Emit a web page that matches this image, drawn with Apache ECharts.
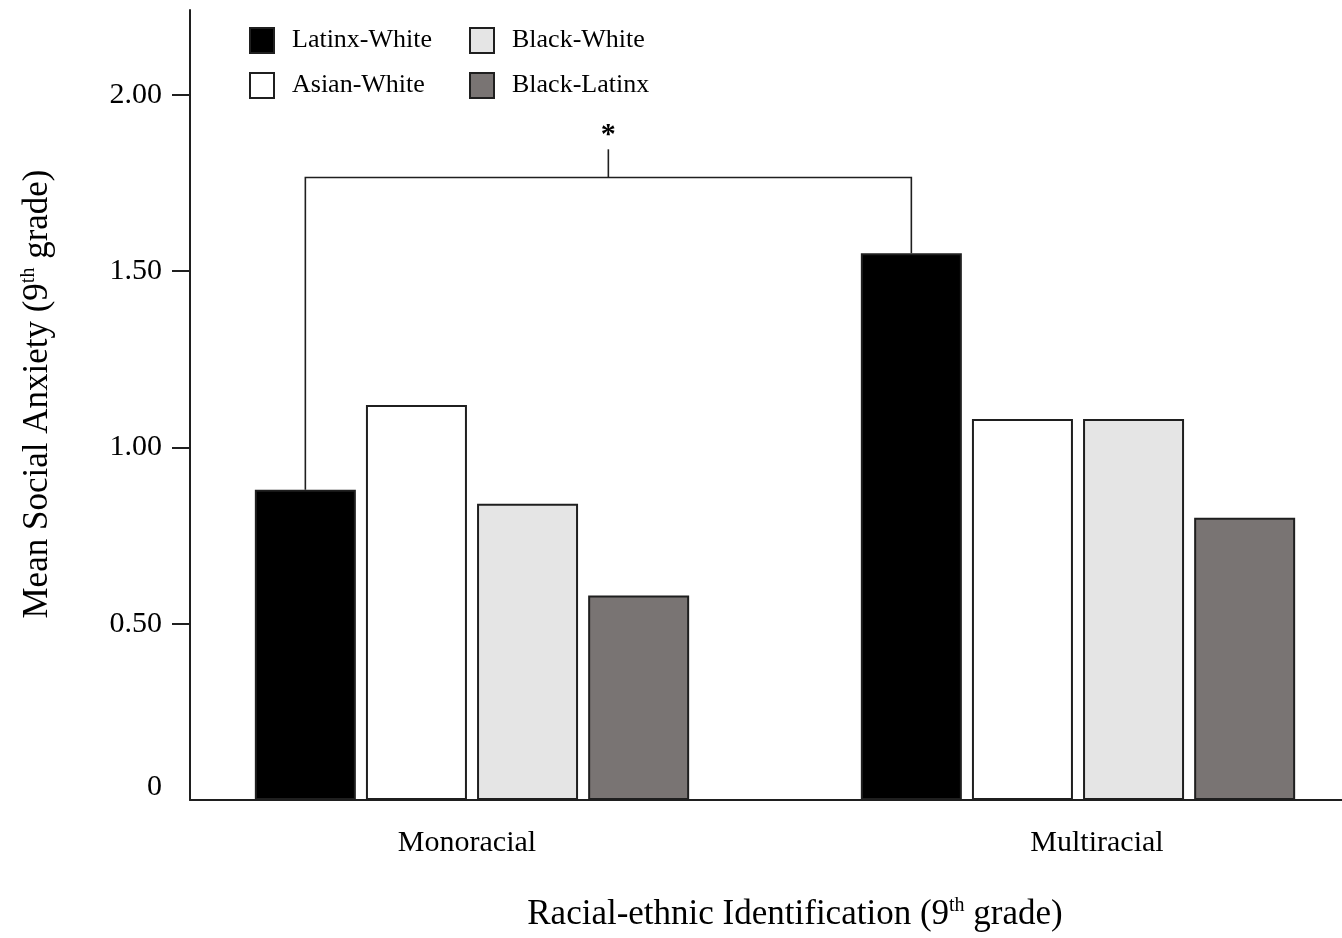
<!DOCTYPE html>
<html>
<head>
<meta charset="utf-8">
<script src="https://cdn.jsdelivr.net/npm/echarts@6/dist/echarts.min.js"></script>
<style>
  html, body { margin: 0; padding: 0; background: #fff; }
  #chart { width: 1342px; height: 938px; }
</style>
</head>
<body>
<div id="chart"></div>
<script>
// Mean social anxiety by racial-ethnic identification (9th grade)
const categories = ['Monoracial', 'Multiracial'];
const seriesNames = ['Latinx-White', 'Asian-White', 'Black-White', 'Black-Latinx'];
const latinxWhite = [0.88, 1.55];
const asianWhite = [1.12, 1.08];
const blackWhite = [0.84, 1.08];
const blackLatinx = [0.58, 0.80];
const yTickLabels = [0, 0.5, 1, 1.5, 2];
const yMax = 2.24;

// significance bracket between the two Latinx-White bars
const bracketLevel = 1.765;
const bracketTip = 1.845;

const FONT = '"Liberation Serif", "Times New Roman", serif';
const INK = '#1f1f1f';

const fills = ['#000000', '#ffffff', '#e5e5e5', '#797473'];
const values = [latinxWhite, asianWhite, blackWhite, blackLatinx];
// nudges for the category labels (left, right padding in px)
const labelPads = [[0, 10], [38, 0]];

const chart = echarts.init(document.getElementById('chart'), null, { renderer: 'canvas' });

const richTitle = {
  a: { fontSize: 35, fontFamily: FONT, color: '#000', lineHeight: 38 },
  s: { fontSize: 20, fontFamily: FONT, color: '#000', lineHeight: 20, verticalAlign: 'top' }
};

const series = seriesNames.map((name, i) => ({
  name,
  type: 'bar',
  xAxisIndex: 1,
  yAxisIndex: 1,
  data: values[i],
  barWidth: 101,
  barGap: '10%',
  itemStyle: { color: fills[i], borderColor: INK, borderWidth: 2 },
  emphasis: { disabled: true },
  silent: true
}));

const legendCommon = {
  orient: 'vertical',
  top: 27,
  itemWidth: 24,
  itemHeight: 25,
  itemGap: 18,
  padding: 0,
  selectedMode: false,
  icon: 'rect',
  textStyle: { fontSize: 26, fontFamily: FONT, color: '#000', lineHeight: 26, padding: [0, 0, 0, 13] }
};

chart.setOption({
  animation: false,
  backgroundColor: '#fff',
  legend: [
    Object.assign({}, legendCommon, { left: 249, data: ['Latinx-White', 'Asian-White'] }),
    Object.assign({}, legendCommon, { left: 469, data: ['Black-White', 'Black-Latinx'] })
  ],
  grid: [
    { left: 190, right: -58, top: 10, bottom: 138, outerBoundsMode: 'none', containLabel: false },
    { left: 169, width: 1212, top: 10, bottom: 138, outerBoundsMode: 'none', containLabel: false }
  ],
  xAxis: [
    {
      gridIndex: 0,
      type: 'value',
      min: 0,
      max: 1,
      axisLine: { show: true, onZero: false, lineStyle: { color: INK, width: 2 } },
      axisTick: { show: false },
      axisLabel: { show: false },
      splitLine: { show: false },
      name: '{a|Racial-ethnic Identification (9}{s|th}{a| grade)}',
      nameLocation: 'middle',
      nameGap: 96,
      nameTextStyle: { rich: richTitle }
    },
    {
      gridIndex: 1,
      type: 'category',
      data: categories.map((c, i) => ({
        value: c,
        textStyle: { padding: [0, labelPads[i][1], 0, labelPads[i][0]] }
      })),
      axisLine: { show: false },
      axisTick: { show: false },
      axisLabel: { fontSize: 30, fontFamily: FONT, color: '#000', margin: 28 }
    }
  ],
  yAxis: [
    {
      gridIndex: 0,
      type: 'value',
      min: 0,
      max: yMax,
      axisLine: { show: true, lineStyle: { color: INK, width: 2 } },
      axisTick: {
        show: true, inside: false, length: 18,
        customValues: yTickLabels.filter(v => v > 0),
        lineStyle: { color: INK, width: 2 }
      },
      axisLabel: {
        customValues: yTickLabels,
        margin: 28,
        fontSize: 30,
        fontFamily: FONT,
        color: '#000',
        formatter: v => (v === 0 ? '{z|0}' : v.toFixed(2)),
        rich: { z: { fontSize: 30, fontFamily: FONT, color: '#000', padding: [0, 0, 26, 0] } }
      },
      splitLine: { show: false },
      name: '{a|Mean Social Anxiety (9}{s|th}{a| grade)}',
      nameLocation: 'middle',
      nameGap: 133,
      nameTextStyle: { rich: richTitle, padding: [0, 0, 0, 22] }
    },
    {
      gridIndex: 1,
      type: 'value',
      min: 0,
      max: yMax,
      show: false,
      splitLine: { show: false }
    }
  ],
  series
});

// bracket + asterisk, anchored to the Latinx-White bar centres
function drawBracket() {
  const data = chart.getModel().getSeriesByIndex(0).getData();
  const a = data.getItemLayout(0);
  const b = data.getItemLayout(1);
  const xa = a.x + a.width / 2;
  const xb = b.x + b.width / 2;
  const ta = Math.min(a.y, a.y + a.height);
  const tb = Math.min(b.y, b.y + b.height);
  const yl = chart.convertToPixel({ yAxisIndex: 1 }, bracketLevel);
  const yt = chart.convertToPixel({ yAxisIndex: 1 }, bracketTip);
  const xm = (xa + xb) / 2;
  const stroke = { stroke: INK, lineWidth: 1.6, fill: 'none' };
  chart.setOption({
    graphic: [
      { type: 'polyline', silent: true, shape: { points: [[xa, ta], [xa, yl], [xb, yl], [xb, tb]] }, style: stroke },
      { type: 'line', silent: true, shape: { x1: xm, y1: yl, x2: xm, y2: yt }, style: stroke },
      {
        type: 'text', silent: true, x: xm, y: yt - 14,
        style: { text: '*', fontSize: 30, fontWeight: 'bold', fontFamily: FONT, fill: '#000', align: 'center', verticalAlign: 'middle' }
      }
    ]
  });
}
drawBracket();
</script>
</body>
</html>
